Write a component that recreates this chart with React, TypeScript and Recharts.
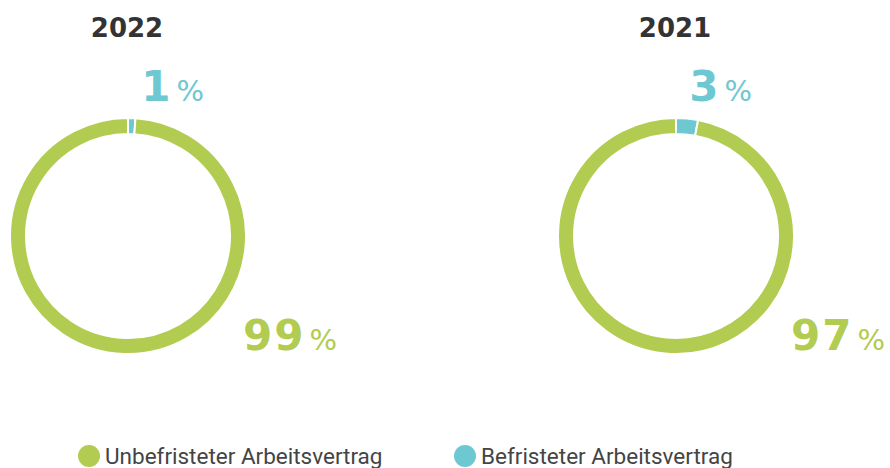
import { PieChart, Pie, Cell } from 'recharts'

// Anteil der Arbeitsverträge nach Jahr
const YEARS = ['2022', '2021']
const CATEGORIES = ['Befristeter Arbeitsvertrag', 'Unbefristeter Arbeitsvertrag']
const VALUES_2022 = [1, 99]
const VALUES_2021 = [3, 97]
const LEGEND_ORDER = ['Unbefristeter Arbeitsvertrag', 'Befristeter Arbeitsvertrag']

const COLORS: Record<string, string> = {
  'Befristeter Arbeitsvertrag': '#6ec8d1',
  'Unbefristeter Arbeitsvertrag': '#b1cc50',
}

const toData = (values: number[]) => CATEGORIES.map((name, i) => ({ name, value: values[i] }))

const renderLabel = (props: any) => {
  const { cx, cy, index, value, payload } = props
  const color = COLORS[payload.name]
  const x = index === 0 ? cx + 76 : cx + 209
  const y = index === 0 ? cy - 135 : cy + 114
  return (
    <text x={x} y={y} textAnchor="end" fill={color} fontFamily="DejaVu Sans" key={`l-${index}`}>
      <tspan fontSize={42} fontWeight={700} letterSpacing={2}>{value}</tspan>
      <tspan fontSize={29} fontWeight={400} dx={4}>%</tspan>
    </text>
  )
}

function Donut({ data, cx }: { data: { name: string; value: number }[]; cx: number }) {
  return (
    <Pie
      data={data}
      dataKey="value"
      cx={cx}
      cy={236}
      innerRadius={102}
      outerRadius={118}
      startAngle={90}
      endAngle={-270}
      stroke="#ffffff"
      strokeWidth={2}
      label={renderLabel}
      labelLine={false}
      isAnimationActive={false}
    >
      {data.map((d, i) => (
        <Cell key={`c-${i}`} fill={COLORS[d.name]} />
      ))}
    </Pie>
  )
}

export default function App() {
  return (
    <div style={{ position: 'absolute', left: 0, top: 0, width: 890, height: 468, background: '#fff' }}>
      <PieChart width={890} height={468} margin={{ top: 0, right: 0, bottom: 0, left: 0 }}>
        <text x={127} y={37} textAnchor="middle" fill="#333" fontFamily="DejaVu Sans" fontWeight={700} fontSize={26}>
          {YEARS[0]}
        </text>
        <text x={675} y={37} textAnchor="middle" fill="#333" fontFamily="DejaVu Sans" fontWeight={700} fontSize={26}>
          {YEARS[1]}
        </text>
        {Donut({ data: toData(VALUES_2022), cx: 128 })}
        {Donut({ data: toData(VALUES_2021), cx: 676 })}
        {LEGEND_ORDER.map((name, i) => (
          <g key={name}>
            <circle cx={i === 0 ? 89 : 465} cy={456} r={11} fill={COLORS[name]} />
            <text x={i === 0 ? 105 : 481} y={464} fill="#444" fontFamily="Roboto" fontSize={22.5}>
              {name}
            </text>
          </g>
        ))}
      </PieChart>
    </div>
  )
}
